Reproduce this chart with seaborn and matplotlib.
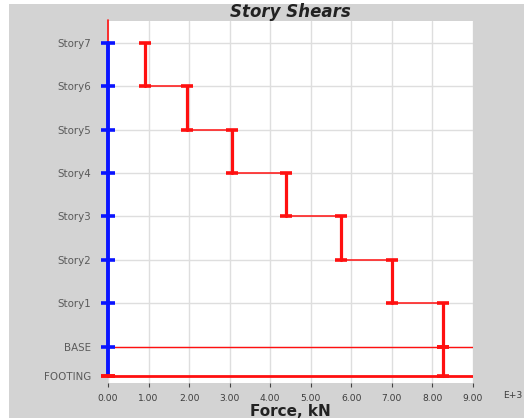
import matplotlib
matplotlib.use("Agg")
import matplotlib.pyplot as plt
from matplotlib.patches import Rectangle
import numpy as np
import pandas as pd
import seaborn as sns

# Story levels, bottom to top, and their elevations (m)
levels = ["FOOTING", "BASE", "Story1", "Story2", "Story3", "Story4", "Story5", "Story6", "Story7"]
elevations = [0, 2, 5, 8, 11, 14, 17, 20, 23]
# Shear carried below each level down to the next one (E+3 kN), BASE..Story7
story_shear = [8.27, 8.27, 7.00, 5.75, 4.40, 3.05, 1.95, 0.90]
x_ticks = [0, 1, 2, 3, 4, 5, 6, 7, 8, 9]
x_tick_labels = ["0.00", "1.00", "2.00", "3.00", "4.00", "5.00", "6.00", "7.00", "8.00", "9.00"]

RED = "#ff1010"
BLUE = "#0a14ff"
GRID = "#dedede"
BG = "#d3d3d3"
TXT = "#3c3c3c"

sns.set_theme(style="white")
plt.rcParams["font.family"] = ["DejaVu Sans"]

W, H = 524, 418
fig = plt.figure(figsize=(W / 100, H / 100), dpi=100, facecolor="white")
fig.patches.append(Rectangle((9 / W, 0), 1 - 9 / W, (H - 4) / H,
                             transform=fig.transFigure, facecolor=BG,
                             edgecolor="none", zorder=-5))
ax = fig.add_axes([108 / W, (H - 383) / H, (473 - 108) / W, (383 - 21) / H])
ax.set_facecolor("white")

# vertical segments (one per story) and horizontal connectors of the step diagram
vert_rows, horiz_rows = [], []
for i, v in enumerate(story_shear):
    top, bot = elevations[i + 1], elevations[i]
    vert_rows += [(f"v{i}", v, top), (f"v{i}", v, bot)]
for i in range(1, len(story_shear)):
    lo, hi = story_shear[i], story_shear[i - 1]
    e = elevations[i]
    horiz_rows += [(f"h{i}", lo, e), (f"h{i}", hi, e)]
vert = pd.DataFrame(vert_rows, columns=["seg", "force", "elev"])
horiz = pd.DataFrame(horiz_rows, columns=["seg", "force", "elev"])

line_kw = dict(estimator=None, sort=False, ax=ax)

# base and footing reference lines across the full width
sns.lineplot(x=[0, 9], y=[elevations[1]] * 2, color=RED, lw=1.0, zorder=3, **line_kw)
sns.lineplot(x=[0, 9], y=[elevations[0]] * 2, color=RED, lw=2.0, zorder=3, **line_kw)

sns.lineplot(data=horiz, x="force", y="elev", units="seg", color=RED, lw=1.1,
             zorder=4, **line_kw)
sns.lineplot(data=vert, x="force", y="elev", units="seg", color=RED, lw=2.3,
             zorder=5, **line_kw)
sns.scatterplot(data=vert, x="force", y="elev", marker="_", s=70,
                color=RED, linewidth=2.6, ax=ax, zorder=6)

# red origin line above the top story
sns.lineplot(x=[0, 0], y=[elevations[-1], 24.6], color=RED, lw=1.2,
             zorder=5, clip_on=False, **line_kw)
# blue level axis with a tick at every level
sns.lineplot(x=[0, 0], y=[elevations[0], elevations[-1]], color=BLUE, lw=2.8,
             zorder=7, clip_on=False, **line_kw)
sns.scatterplot(x=[0] * (len(elevations) - 1), y=elevations[1:], marker="_", s=90,
                color=BLUE, linewidth=2.6, ax=ax, zorder=8, clip_on=False)
sns.scatterplot(x=[0], y=[elevations[0]], marker="_", s=90,
                color=RED, linewidth=2.8, ax=ax, zorder=9, clip_on=False)

ax.set_xlim(0, 9)
ax.set_ylim(-0.5, 24.5)
ax.set_xticks(x_ticks)
ax.set_xticklabels(x_tick_labels, fontsize=6.6, color=TXT)
ax.set_yticks(elevations)
ax.set_yticklabels(levels, fontsize=7.4, color="#5a5a5a")
ax.tick_params(axis="x", length=3, width=0.8, color="#444444", pad=5, bottom=True)
ax.tick_params(axis="y", length=0, pad=12)
ax.grid(True, color=GRID, lw=1.0)
ax.set_axisbelow(True)
for s in ax.spines.values():
    s.set_visible(False)

ax.set_xlabel("Force, kN", fontsize=11, fontweight="bold", color="#222222")
ax.xaxis.set_label_coords(0.5, -21 / 362)
ax.set_ylabel("")
ax.set_title("Story Shears", fontsize=12, fontweight="bold", style="italic",
             color="#222222", pad=3)
fig.text(503 / W, (H - 396) / H, "E+3", fontsize=6.6, color=TXT, va="center", ha="left")

fig.savefig("out.png", dpi=100, facecolor=fig.get_facecolor())
